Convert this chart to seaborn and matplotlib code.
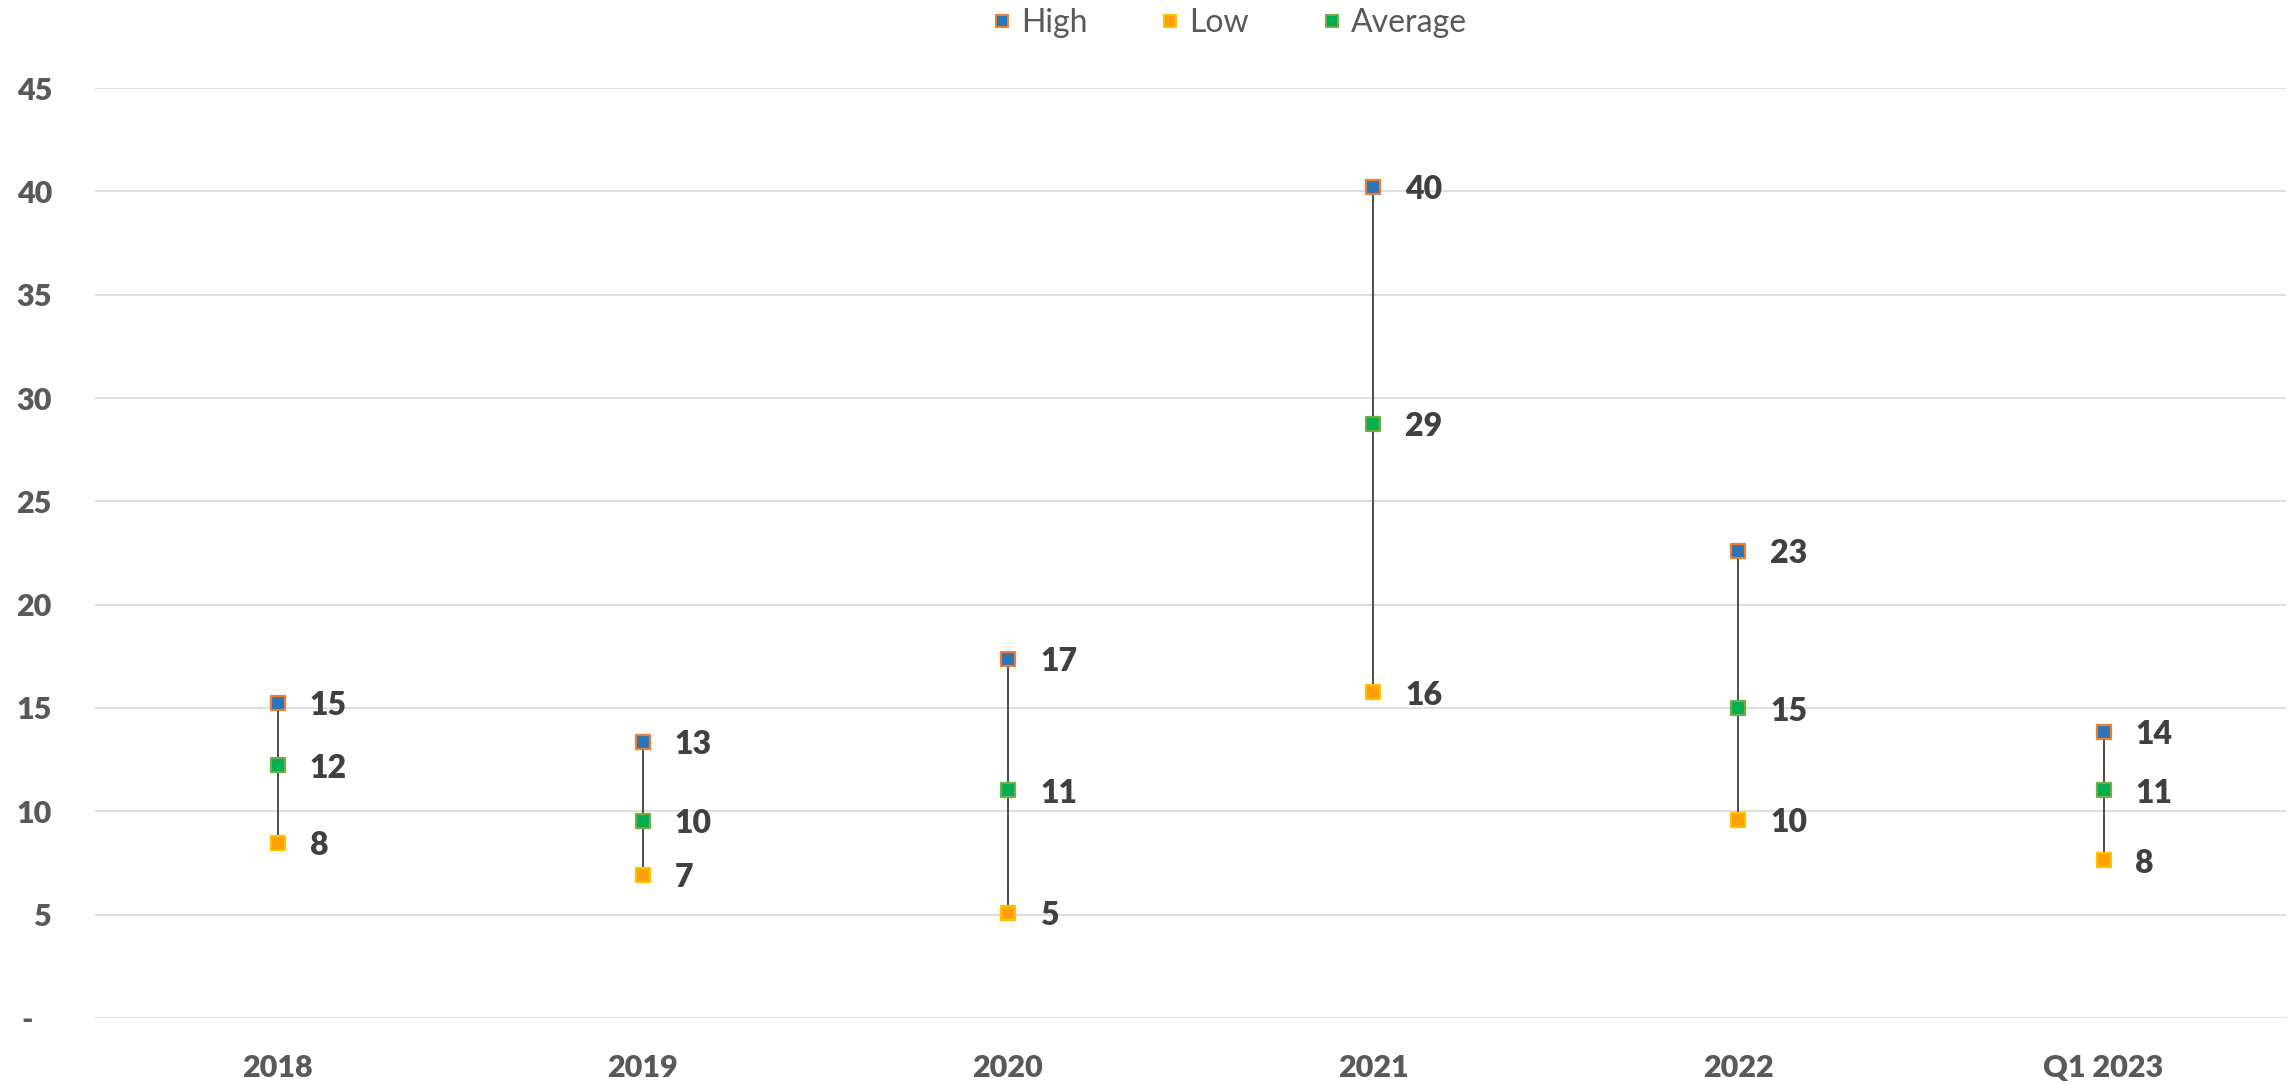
import matplotlib
matplotlib.use("Agg")
import matplotlib.pyplot as plt
import matplotlib.transforms as mtransforms
from matplotlib.lines import Line2D
import pandas as pd
import seaborn as sns

# Price range per period
periods = ["2018", "2019", "2020", "2021", "2022", "Q1 2023"]
high = [15.26, 13.35, 17.38, 40.2, 22.6, 13.85]
low = [8.48, 6.92, 5.09, 15.75, 9.6, 7.63]
average = [12.22, 9.54, 11.02, 28.75, 14.98, 11.02]

y_ticks = [0, 5, 10, 15, 20, 25, 30, 35, 40, 45]
y_tick_labels = ["-", "5", "10", "15", "20", "25", "30", "35", "40", "45"]

series = {
    "High": (high, "#2E75B6", "#ED7D31"),
    "Low": (low, "#FFA000", "#FFC000"),
    "Average": (average, "#00B050", "#70AD47"),
}

sns.set_style("white")
plt.rcParams["font.family"] = ["Lato", "DejaVu Sans"]

long = pd.concat(
    [pd.DataFrame({"period": periods, "value": vals, "series": name})
     for name, (vals, _, _) in series.items()],
    ignore_index=True,
)

fig = plt.figure(figsize=(22.9, 10.84), dpi=100)
ax = fig.add_axes([0.0415, 0.0609, 0.9568, 0.8579])

# vertical high-low connector for each period
sns.lineplot(data=long, x="period", y="value", units="period", estimator=None,
             color="#404040", linewidth=1.3, ax=ax, legend=False, zorder=2)

handles = []
for name, (vals, face, edge) in series.items():
    sub = long[long["series"] == name]
    sns.scatterplot(data=sub, x="period", y="value", marker="s", s=100,
                    color=face, edgecolor=edge, linewidth=1.6, ax=ax,
                    zorder=3, legend=False)
    for i, v in enumerate(vals):
        ax.annotate(f"{v:.0f}", xy=(i, v), xytext=(23, -2),
                    textcoords="offset points", va="center", ha="left",
                    fontsize=23, fontweight="heavy", color="#404040")
    handles.append(Line2D([], [], linestyle="none", marker="s", markersize=9,
                          markerfacecolor=face, markeredgecolor=edge,
                          markeredgewidth=1.4, label=name))

ax.set_xlim(-0.5, len(periods) - 0.5)
ax.set_ylim(0, 45)
ax.set_yticks(y_ticks)
ax.set_yticklabels(y_tick_labels)
ax.set_xlabel("")
ax.set_ylabel("")
ax.tick_params(axis="y", length=0, pad=31, labelsize=22, labelcolor="#595959")
ax.tick_params(axis="x", length=0, pad=26, labelsize=22, labelcolor="#595959")
for lbl in ax.get_xticklabels() + ax.get_yticklabels():
    lbl.set_fontweight("heavy")

ax.yaxis.grid(True, color="#d9d9d9", linewidth=1.2)
ax.xaxis.grid(False)
ax.set_axisbelow(True)
for sp in ax.spines.values():
    sp.set_visible(False)

# shift the zero label a little left, like an accounting dash
zero_lbl = ax.get_yticklabels()[0]
zero_lbl.set_transform(zero_lbl.get_transform()
                       + mtransforms.ScaledTranslation(-19 / 100, 0, fig.dpi_scale_trans))

fig.legend(handles=handles, loc="center", bbox_to_anchor=(0.537, 0.979),
           ncol=3, frameon=False, fontsize=23, labelcolor="#595959",
           handlelength=0.6, handletextpad=0.3, columnspacing=2.3)

fig.savefig("out.png", dpi=100, facecolor="white")
